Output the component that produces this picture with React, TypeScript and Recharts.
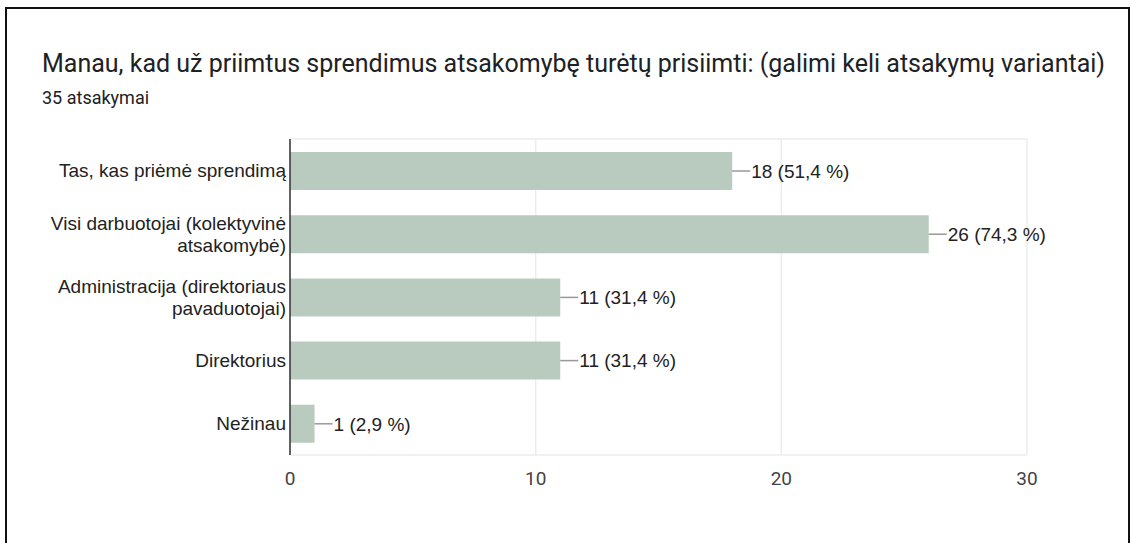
import { BarChart, Bar, XAxis, YAxis, CartesianGrid, LabelList } from "recharts"

const categories = [
  "Tas, kas priėmė sprendimą",
  "Visi darbuotojai (kolektyvinė atsakomybė)",
  "Administracija (direktoriaus pavaduotojai)",
  "Direktorius",
  "Nežinau",
]
const counts = [18, 26, 11, 11, 1]
const percents = ["51,4", "74,3", "31,4", "31,4", "2,9"]
const xTicks = [0, 10, 20, 30]

const title = "Manau, kad už priimtus sprendimus atsakomybę turėtų prisiimti: (galimi keli atsakymų variantai)"
const subtitle = "35 atsakymai"

const data = categories.map((name, i) => ({
  name,
  value: counts[i],
  label: `${counts[i]} (${percents[i]} %)`,
}))

// wrap long category names onto several lines
function wrap(text: string, max: number) {
  const words = text.split(" ")
  const lines: string[] = []
  let cur = ""
  for (const w of words) {
    const next = cur ? cur + " " + w : w
    if (next.length > max && cur) {
      lines.push(cur)
      cur = w
    } else {
      cur = next
    }
  }
  if (cur) lines.push(cur)
  return lines
}

function CategoryTick(props: any) {
  const { x, y, payload } = props
  const lines = wrap(payload.value, 30)
  const lh = 22
  const start = y - ((lines.length - 1) * lh) / 2
  const tx = x + 5
  return (
    <text x={tx} y={start} textAnchor="end" fill="#222" fontSize={19} fontFamily="Liberation Sans, Arial, sans-serif">
      {lines.map((l, i) => (
        <tspan key={i} x={tx} y={start + i * lh} dy="0.36em">
          {l}
        </tspan>
      ))}
    </text>
  )
}

function ValueLabel(props: any) {
  const { x, y, width, height, value } = props
  const ex = x + width
  const cy = y + height / 2
  return (
    <g>
      <line x1={ex} y1={cy} x2={ex + 18} y2={cy} stroke="#999" strokeWidth={1.5} />
      <text x={ex + 19} y={cy} dy="0.36em" fill="#222" fontSize={19} fontFamily="Liberation Sans, Arial, sans-serif">
        {value}
      </text>
    </g>
  )
}

export default function App() {
  return (
    <div style={{ position: "relative", width: 1131, height: 543, background: "#fff", overflow: "hidden" }}>
      <style>{`body{margin:0}`}</style>
      <div
        style={{
          position: "absolute",
          left: 5,
          top: 7,
          width: 1121,
          height: 560,
          borderLeft: "2px solid #111",
          borderTop: "2px solid #111",
          borderRight: "2px solid #111",
        }}
      />
      <div
        style={{
          position: "absolute",
          left: 42,
          top: 49,
          fontFamily: "Roboto, sans-serif",
          fontSize: 25,
          color: "#202124",
          whiteSpace: "nowrap",
        }}
      >
        {title}
      </div>
      <div
        style={{
          position: "absolute",
          left: 42,
          top: 87,
          fontFamily: "Roboto, sans-serif",
          fontSize: 18,
          color: "#202124",
        }}
      >
        {subtitle}
      </div>
      <div style={{ position: "absolute", left: 0, top: 0 }}>
        <BarChart
          width={1131}
          height={543}
          data={data}
          layout="vertical"
          margin={{ top: 139, right: 104, bottom: 58, left: 40 }}
          barSize={38}
        >
          <CartesianGrid stroke="#ececec" strokeWidth={1.5} horizontalPoints={[139, 455]} />
          <XAxis
            type="number"
            domain={[0, 30]}
            ticks={xTicks}
            axisLine={false}
            tickLine={false}
            height={30}
            tick={{ fill: "#444", fontSize: 19, fontFamily: "Roboto, sans-serif" }}
            tickMargin={11}
          />
          <YAxis
            type="category"
            dataKey="name"
            width={250}
            axisLine={{ stroke: "#333", strokeWidth: 1.5 }}
            tickLine={false}
            tick={<CategoryTick />}
            tickMargin={3}
          />
          <Bar dataKey="value" fill="#b9cbbe" isAnimationActive={false}>
            <LabelList dataKey="label" content={<ValueLabel />} />
          </Bar>
        </BarChart>
      </div>
    </div>
  )
}
